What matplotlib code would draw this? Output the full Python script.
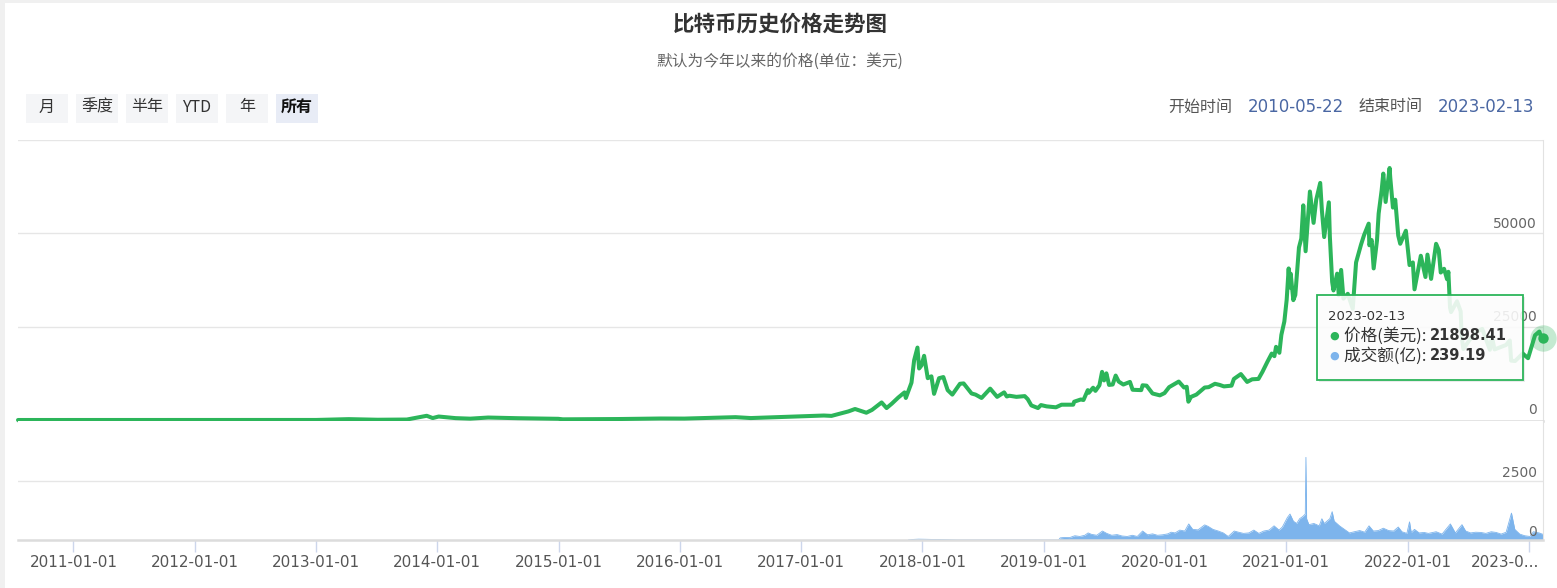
import numpy as np
import pandas as pd
import matplotlib
matplotlib.use("Agg")
import matplotlib.pyplot as plt
import matplotlib.transforms as mtransforms
from matplotlib.patches import Rectangle

plt.rcParams['font.family'] = ['Noto Sans CJK SC', 'DejaVu Sans']

W, H = 1557, 588
GREEN = '#2cb55a'
BLUE = '#7db4ec'

# price (USD)
price_pts = [
    ('2010-07-18', 0.09), ('2010-11-06', 0.3), ('2011-02-10', 1), ('2011-06-08', 30),
    ('2011-11-18', 2.3), ('2012-08-16', 13), ('2013-01-01', 13.5), ('2013-04-09', 230),
    ('2013-07-05', 70), ('2013-10-01', 125), ('2013-11-30', 1130), ('2013-12-18', 520),
    ('2014-01-05', 930), ('2014-02-25', 500), ('2014-04-10', 360), ('2014-06-03', 660),
    ('2014-09-01', 480), ('2014-12-31', 320), ('2015-01-14', 180), ('2015-06-30', 260),
    ('2015-11-04', 400), ('2016-01-15', 380), ('2016-06-17', 760), ('2016-08-02', 520),
    ('2016-12-31', 960), ('2017-01-05', 1000), ('2017-03-10', 1200), ('2017-04-02', 1100),
    ('2017-05-23', 2300), ('2017-06-12', 2950), ('2017-07-16', 1950), ('2017-08-02', 2700),
    ('2017-08-31', 4700), ('2017-09-15', 3200), ('2017-10-01', 4400), ('2017-10-20', 6000),
    ('2017-11-08', 7400), ('2017-11-12', 5900), ('2017-11-29', 10000), ('2017-12-07', 16000),
    ('2017-12-17', 19400), ('2017-12-22', 13800), ('2017-12-29', 14600), ('2018-01-06', 17200),
    ('2018-01-17', 11200), ('2018-01-28', 11700), ('2018-02-05', 7000), ('2018-02-20', 11200),
    ('2018-03-05', 11500), ('2018-03-18', 8000), ('2018-04-01', 6800), ('2018-04-24', 9700),
    ('2018-05-05', 9800), ('2018-05-29', 7100), ('2018-06-10', 6800), ('2018-06-28', 5900),
    ('2018-07-24', 8400), ('2018-08-14', 6200), ('2018-09-04', 7400), ('2018-09-12', 6300),
    ('2018-09-20', 6500), ('2018-10-11', 6200), ('2018-11-05', 6400), ('2018-11-14', 5600),
    ('2018-11-25', 3900), ('2018-12-15', 3200), ('2018-12-24', 4000), ('2019-01-10', 3650),
    ('2019-02-07', 3400), ('2019-02-24', 4100), ('2019-03-31', 4100), ('2019-04-03', 4900),
    ('2019-04-23', 5500), ('2019-05-01', 5350), ('2019-05-14', 8000), ('2019-05-17', 7300),
    ('2019-05-30', 8650), ('2019-06-06', 7800), ('2019-06-18', 9300), ('2019-06-26', 12900),
    ('2019-07-02', 10600), ('2019-07-09', 12500), ('2019-07-17', 9400), ('2019-07-28', 9500),
    ('2019-08-06', 11900), ('2019-08-15', 10300), ('2019-08-29', 9500), ('2019-09-18', 10200),
    ('2019-09-26', 8100), ('2019-10-22', 8000), ('2019-10-26', 9300), ('2019-11-07', 9200),
    ('2019-11-25', 7100), ('2019-12-17', 6600), ('2019-12-31', 7200), ('2020-01-14', 8800),
    ('2020-02-12', 10300), ('2020-02-28', 8700), ('2020-03-07', 8900), ('2020-03-12', 4900),
    ('2020-03-20', 6200), ('2020-04-05', 6800), ('2020-04-30', 8700), ('2020-05-12', 8800),
    ('2020-05-31', 9700), ('2020-06-14', 9400), ('2020-06-27', 9000), ('2020-07-20', 9200),
    ('2020-07-27', 11000), ('2020-08-17', 12300), ('2020-09-05', 10200), ('2020-09-20', 10900),
    ('2020-10-09', 11000), ('2020-10-21', 12900), ('2020-11-05', 15600), ('2020-11-18', 17800),
    ('2020-11-26', 17100), ('2020-12-01', 19600), ('2020-12-11', 18000), ('2020-12-17', 22800),
    ('2020-12-26', 26400), ('2021-01-02', 32200), ('2021-01-08', 40600), ('2021-01-11', 35500),
    ('2021-01-14', 39200), ('2021-01-22', 32100), ('2021-01-28', 33500), ('2021-02-08', 46200),
    ('2021-02-15', 48600), ('2021-02-21', 57500), ('2021-02-28', 45200), ('2021-03-13', 61200),
    ('2021-03-24', 52800), ('2021-04-01', 59000), ('2021-04-13', 63500), ('2021-04-18', 56200),
    ('2021-04-25', 49000), ('2021-05-09', 58300), ('2021-05-12', 49200), ('2021-05-19', 37000),
    ('2021-05-23', 34700), ('2021-06-03', 39200), ('2021-06-08', 33400), ('2021-06-15', 40200),
    ('2021-06-22', 32500), ('2021-07-05', 33800), ('2021-07-20', 29800), ('2021-07-30', 42200),
    ('2021-08-14', 47000), ('2021-08-23', 49500), ('2021-09-06', 52600), ('2021-09-08', 46800),
    ('2021-09-15', 48200), ('2021-09-21', 40600), ('2021-10-01', 48100), ('2021-10-06', 55300),
    ('2021-10-15', 61500), ('2021-10-20', 66000), ('2021-10-27', 58400), ('2021-11-08', 67500),
    ('2021-11-10', 64900), ('2021-11-18', 56900), ('2021-11-25', 59000), ('2021-12-04', 49400),
    ('2021-12-10', 47200), ('2021-12-27', 50700), ('2022-01-07', 41500), ('2022-01-17', 42200),
    ('2022-01-22', 35000), ('2022-02-10', 44000), ('2022-02-24', 38300), ('2022-03-02', 44300),
    ('2022-03-13', 37800), ('2022-03-28', 47200), ('2022-04-05', 45500), ('2022-04-11', 39500),
    ('2022-04-21', 40500), ('2022-04-30', 37700), ('2022-05-04', 39700), ('2022-05-09', 30100),
    ('2022-05-12', 28900), ('2022-05-30', 31800), ('2022-06-10', 29100), ('2022-06-13', 22500),
    ('2022-06-18', 19000), ('2022-07-08', 21600), ('2022-07-30', 23700), ('2022-08-14', 24400),
    ('2022-09-06', 18800), ('2022-09-12', 22400), ('2022-09-20', 18900), ('2022-10-25', 20100),
    ('2022-11-05', 21300), ('2022-11-09', 15900), ('2022-11-21', 15800), ('2022-12-14', 17800),
    ('2022-12-30', 16550), ('2023-01-14', 20900), ('2023-01-20', 22700), ('2023-02-02', 23700),
    ('2023-02-09', 21800), ('2023-02-13', 21898.41),
]
price_dates = pd.to_datetime([d for d, v in price_pts])
price_values = np.array([v for d, v in price_pts])

# turnover (亿)
vol_pts = [
    ('2017-11-20', 0), ('2017-12-05', 25), ('2017-12-20', 35), ('2018-01-10', 30),
    ('2018-02-10', 20), ('2018-03-20', 10), ('2018-04-15', 0),
    ('2019-02-15', 0), ('2019-02-20', 90), ('2019-03-05', 110), ('2019-03-20', 100),
    ('2019-04-05', 180), ('2019-04-20', 150), ('2019-05-05', 200), ('2019-05-15', 300),
    ('2019-05-25', 240), ('2019-06-10', 200), ('2019-06-27', 380), ('2019-07-10', 280),
    ('2019-07-25', 200), ('2019-08-10', 230), ('2019-08-25', 170), ('2019-09-10', 150),
    ('2019-09-25', 200), ('2019-10-10', 150), ('2019-10-26', 380), ('2019-11-10', 220),
    ('2019-11-25', 260), ('2019-12-10', 200), ('2019-12-25', 220), ('2020-01-10', 260),
    ('2020-01-20', 330), ('2020-02-01', 300), ('2020-02-15', 420), ('2020-03-01', 380),
    ('2020-03-13', 680), ('2020-03-25', 450), ('2020-04-10', 430), ('2020-04-30', 640),
    ('2020-05-10', 580), ('2020-05-25', 450), ('2020-06-10', 380), ('2020-06-25', 300),
    ('2020-07-10', 150), ('2020-07-28', 380), ('2020-08-10', 330), ('2020-08-25', 280),
    ('2020-09-10', 300), ('2020-09-25', 420), ('2020-10-10', 280), ('2020-10-25', 380),
    ('2020-11-10', 420), ('2020-11-25', 600), ('2020-12-10', 420), ('2020-12-20', 550),
    ('2021-01-04', 950), ('2021-01-12', 1100), ('2021-01-22', 800), ('2021-02-01', 700),
    ('2021-02-10', 900), ('2021-02-20', 1000), ('2021-02-27', 1100), ('2021-03-01', 3500),
    ('2021-03-03', 900), ('2021-03-10', 650), ('2021-03-25', 700), ('2021-04-10', 600),
    ('2021-04-18', 900), ('2021-04-25', 700), ('2021-05-12', 900), ('2021-05-19', 1200),
    ('2021-05-25', 800), ('2021-06-10', 600), ('2021-06-25', 450), ('2021-07-10', 300),
    ('2021-07-25', 350), ('2021-08-10', 400), ('2021-08-25', 330), ('2021-09-07', 600),
    ('2021-09-20', 380), ('2021-10-05', 400), ('2021-10-20', 500), ('2021-11-05', 400),
    ('2021-11-20', 380), ('2021-12-04', 550), ('2021-12-15', 350), ('2021-12-30', 280),
    ('2022-01-07', 770), ('2022-01-12', 320), ('2022-01-22', 450), ('2022-02-05', 300),
    ('2022-02-20', 320), ('2022-03-05', 280), ('2022-03-28', 350), ('2022-04-15', 250),
    ('2022-05-10', 680), ('2022-05-25', 300), ('2022-06-14', 650), ('2022-06-25', 380),
    ('2022-07-10', 300), ('2022-07-25', 330), ('2022-08-10', 320), ('2022-08-25', 280),
    ('2022-09-10', 350), ('2022-09-25', 320), ('2022-10-10', 250), ('2022-10-25', 330),
    ('2022-11-10', 1140), ('2022-11-20', 450), ('2022-12-05', 250), ('2022-12-20', 180),
    ('2023-01-05', 150), ('2023-01-15', 350), ('2023-02-01', 300), ('2023-02-13', 239.19),
]
vol_dates = pd.to_datetime([d for d, v in vol_pts])
vol_values = np.array([v for d, v in vol_pts])

year_ticks = ['2011-01-01', '2012-01-01', '2013-01-01', '2014-01-01', '2015-01-01',
              '2016-01-01', '2017-01-01', '2018-01-01', '2019-01-01', '2020-01-01',
              '2021-01-01', '2022-01-01', '2023-01-01']
tick_labels = year_ticks[:-1] + ['2023-0...']
range_buttons = ['月', '季度', '半年', 'YTD', '年', '所有']
price_grid = [25000, 50000, 75000]
price_labels = {0: '0', 25000: '25000', 50000: '50000'}
vol_grid = [2500]
vol_labels = {0: '0', 2500: '2500'}
start_date, end_date = '2010-05-22', '2023-02-13'
last_price, last_volume = 21898.41, 239.19

NUM = ['DejaVu Sans']


def fx(px):
    return px / W


def fy(py):
    return 1 - py / H


fig = plt.figure(figsize=(W / 100, H / 100), dpi=100)
fig.patch.set_facecolor('white')

# page frame strips
fig.add_artist(Rectangle((0, 0), fx(5), 1, transform=fig.transFigure, color='#f0f0f0', lw=0))
fig.add_artist(Rectangle((0, fy(3)), 1, 3 / H, transform=fig.transFigure, color='#f0f0f0', lw=0))

# title
fig.text(fx(780), fy(24), '比特币历史价格走势图', ha='center', va='center',
         fontsize=15.5, fontweight='bold', color='#333333')
fig.text(fx(780), fy(61), '默认为今年以来的价格(单位：美元)', ha='center', va='center',
         fontsize=11.3, color='#666666')

# range buttons
for i, b in enumerate(range_buttons):
    x0 = 26 + 50 * i
    sel = (b == '所有')
    fig.add_artist(Rectangle((fx(x0), fy(123)), 42 / W, 29 / H, transform=fig.transFigure,
                             facecolor='#e8ecf6' if sel else '#f4f5f7', lw=0))
    fig.text(fx(x0 + 21), fy(107), b, ha='center', va='center', fontsize=11.5,
             fontweight='bold' if sel else 'normal', color='#111111' if sel else '#333333')

# start / end time
fig.text(fx(1168), fy(107), '开始时间', ha='left', va='center', fontsize=11.5, color='#555555')
fig.text(fx(1248), fy(107), start_date, ha='left', va='center', fontsize=12, color='#4a67a3',
         family=NUM)
fig.text(fx(1359), fy(107), '结束时间', ha='left', va='center', fontsize=11.5, color='#555555')
fig.text(fx(1438), fy(107), end_date, ha='left', va='center', fontsize=12, color='#4a67a3',
         family=NUM)

# price panel
ax = fig.add_axes([fx(18), fy(421), 1525 / W, 281 / H])
vax = fig.add_axes([fx(18), fy(540), 1525 / W, 119 / H], sharex=ax)

ax.set_xlim(price_dates[0], price_dates[-1])
ax.set_ylim(-75000 / 280, 75000)
for g in price_grid:
    ax.axhline(g, color='#e6e6e6', lw=1, zorder=0)
for s in ['left', 'top']:
    ax.spines[s].set_visible(False)
ax.spines['bottom'].set_color('#dcdcdc')
ax.spines['bottom'].set_linewidth(1.8)
ax.spines['right'].set_color('#e2e2e2')
ax.tick_params(axis='both', which='both', length=0, labelbottom=False, labelleft=False)
for v, lab in price_labels.items():
    ax.text(0.9961, v + 700, lab, transform=ax.get_yaxis_transform(), ha='right', va='bottom',
            fontsize=10, color='#666666', family=NUM, zorder=1)

ax.plot(price_dates, price_values, color=GREEN, lw=2.9, solid_joinstyle='round',
        solid_capstyle='round', clip_on=False, zorder=3)
ax.plot(price_dates[-1:], price_values[-1:], 'o', ms=19, color=GREEN, alpha=0.28,
        mec='none', clip_on=False, zorder=4)
ax.plot(price_dates[-1:], price_values[-1:], 'o', ms=7.5, color=GREEN, mec='none',
        clip_on=False, zorder=5)

# volume panel
vax.set_ylim(0, 5040)
for g in vol_grid:
    vax.axhline(g, color='#e6e6e6', lw=1, zorder=0)
for s in ['left', 'top']:
    vax.spines[s].set_visible(False)
vax.spines['bottom'].set_color('#dcdcdc')
vax.spines['bottom'].set_linewidth(1.8)
vax.spines['right'].set_color('#e2e2e2')
vax.fill_between(vol_dates, vol_values, 0, color=BLUE, lw=0, zorder=2)
vax.plot(vol_dates, vol_values, color=BLUE, lw=0.6, zorder=2)
for v, lab in vol_labels.items():
    vax.text(0.9961, v + 40, lab, transform=vax.get_yaxis_transform(), ha='right', va='bottom',
             fontsize=10, color='#666666', family=NUM, zorder=3)
vax.set_yticks([])
vax.set_xticks(pd.to_datetime(year_ticks))
vax.set_xticklabels(tick_labels, fontsize=11, color='#555555', family=NUM)
vax.tick_params(axis='x', length=8.6, width=1, color='#ccd6eb', pad=2)
# last label is kept inside the chart, right-aligned
last_lab = vax.get_xticklabels()[-1]
last_lab.set_ha('right')
last_lab.set_transform(last_lab.get_transform() +
                       mtransforms.ScaledTranslation(11 / 100, 0, fig.dpi_scale_trans))

# tooltip
fig.add_artist(Rectangle((fx(1319), fy(382)), 206 / W, 85 / H, transform=fig.transFigure,
                         facecolor=(0, 0, 0, 0.08), lw=0, zorder=6))
fig.add_artist(Rectangle((fx(1317), fy(380)), 206 / W, 85 / H, transform=fig.transFigure,
                         facecolor=(1, 1, 1, 0.88), edgecolor=GREEN, lw=1.3, zorder=7))
fig.text(fx(1328), fy(317), end_date, ha='left', va='center', fontsize=9.5, color='#333333',
         family=NUM, zorder=8)
rows = [(GREEN, '价格(美元): ', f'{last_price:.2f}', 336),
        (BLUE, '成交额(亿): ', f'{last_volume:.2f}', 356)]
fig.canvas.draw()
renderer = fig.canvas.get_renderer()
for col, lab, val, yy in rows:
    fig.text(fx(1334), fy(yy), '●', ha='center', va='center', fontsize=8, color=col, zorder=8,
             family=NUM)
    t = fig.text(fx(1344), fy(yy), lab, ha='left', va='center', fontsize=12, color='#333333',
                 zorder=8)
    bb = t.get_window_extent(renderer)
    fig.text(bb.x1 / W, fy(yy), val, ha='left', va='center', fontsize=10.5, fontweight='bold',
             color='#333333', zorder=8, family=NUM)

fig.savefig('out.png', dpi=100, facecolor='white')
